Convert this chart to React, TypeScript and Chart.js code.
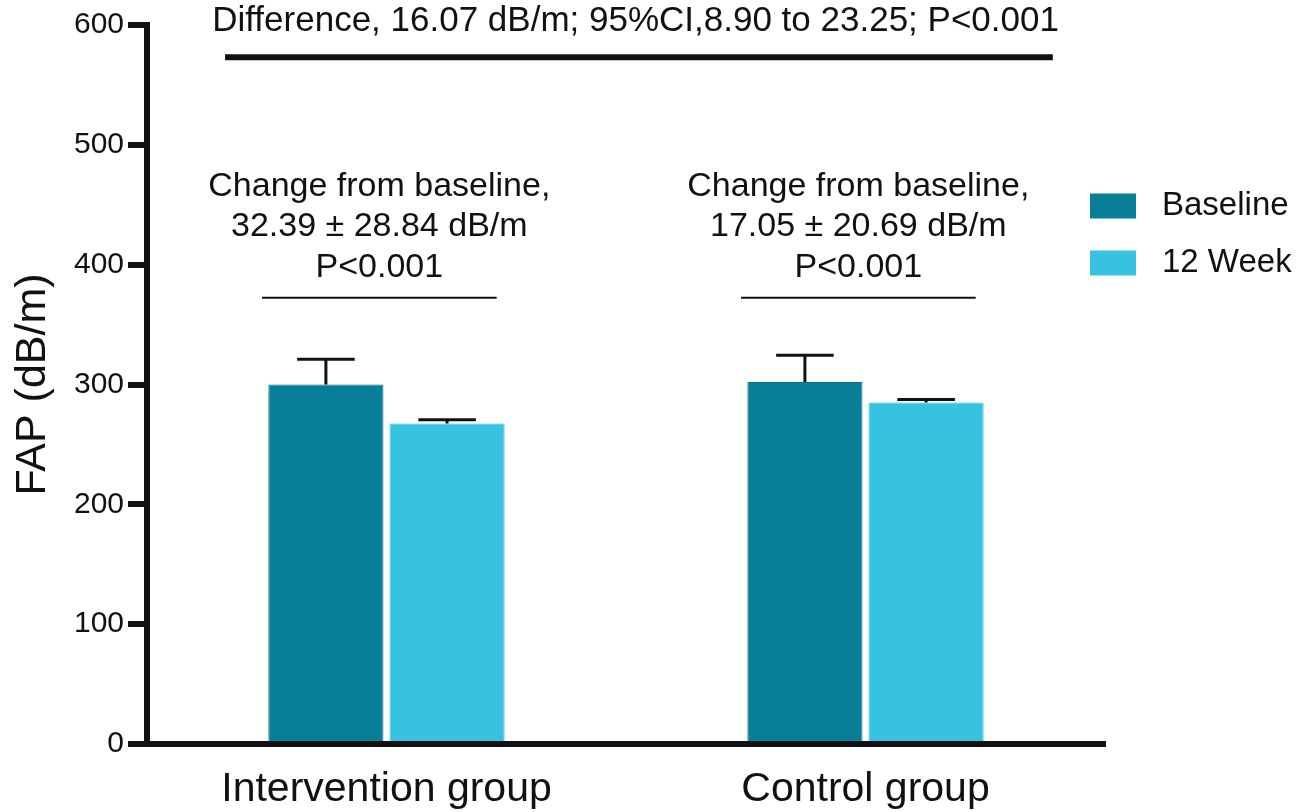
import React, { useEffect, useRef } from 'react';
import { Chart, registerables } from 'chart.js';

Chart.register(...registerables);

const categories = ['Intervention group', 'Control group'];
const seriesLabels = ['Baseline', '12 Week'];
const baselineValues = [300, 302];
const week12Values = [267.5, 285];
const baselineSD = [21, 22.5];
const week12SD = [3, 2.5];
const seriesColors = ['#087f97', '#38c2e1'];
const seriesBorders = ['#0a7089', '#3bbde0'];
const yMin = 0;
const yMax = 600;
const yStep = 100;
const yTitle = 'FAP (dB/m)';
const topNote = 'Difference, 16.07 dB/m; 95%CI,8.90 to 23.25; P<0.001';
const groupNotes = [
  ['Change from baseline,', '32.39 ± 28.84 dB/m', 'P<0.001'],
  ['Change from baseline,', '17.05 ± 20.69 dB/m', 'P<0.001'],
];
// annotation levels in data units (y) and category-index units (x)
const topNoteY = 602.7;
const topLineY = 573;
const topLineX = [-0.337, 1.391];
const topNoteX = 0.52;
const groupNoteYs = [465, 431.6, 397.3];
const groupLineY = 372.3;
const groupOffset = -0.015;
const groupHalfWidth = 0.245;

const FONT = '"Liberation Sans", Arial, Helvetica, sans-serif';
const INK = '#111111';

const annotationPlugin = {
  id: 'annotations',
  afterDatasetsDraw(chart: any) {
    const ctx = chart.ctx;
    const ys = chart.scales.y;
    ctx.save();
    const sds = [baselineSD, week12SD];
    const vals = [baselineValues, week12Values];
    chart.data.datasets.forEach((_ds: any, di: number) => {
      const meta = chart.getDatasetMeta(di);
      meta.data.forEach((bar: any, i: number) => {
        const top = ys.getPixelForValue(vals[di][i] + sds[di][i]);
        const y0 = bar.y;
        const half = bar.width * 0.25;
        ctx.strokeStyle = INK;
        ctx.lineWidth = 3;
        ctx.beginPath();
        ctx.moveTo(bar.x, y0);
        ctx.lineTo(bar.x, top);
        ctx.moveTo(bar.x - half, top);
        ctx.lineTo(bar.x + half, top);
        ctx.stroke();
      });
    });
    ctx.restore();
  },
  afterDraw(chart: any) {
    const ctx = chart.ctx;
    const xs = chart.scales.x;
    const ys = chart.scales.y;
    ctx.save();
    ctx.fillStyle = INK;
    ctx.strokeStyle = INK;
    ctx.textAlign = 'center';
    ctx.textBaseline = 'middle';
    ctx.font = `35px ${FONT}`;
    ctx.fillText(topNote, xs.getPixelForValue(topNoteX), ys.getPixelForValue(topNoteY));
    ctx.lineWidth = 6;
    ctx.beginPath();
    ctx.moveTo(xs.getPixelForValue(topLineX[0]), ys.getPixelForValue(topLineY));
    ctx.lineTo(xs.getPixelForValue(topLineX[1]), ys.getPixelForValue(topLineY));
    ctx.stroke();
    ctx.font = `34px ${FONT}`;
    groupNotes.forEach((lines, gi) => {
      const cx = xs.getPixelForValue(gi + groupOffset);
      lines.forEach((t, li) => {
        ctx.fillText(t, cx, ys.getPixelForValue(groupNoteYs[li]));
      });
      ctx.lineWidth = 2;
      ctx.beginPath();
      ctx.moveTo(xs.getPixelForValue(gi + groupOffset - groupHalfWidth), ys.getPixelForValue(groupLineY));
      ctx.lineTo(xs.getPixelForValue(gi + groupOffset + groupHalfWidth), ys.getPixelForValue(groupLineY));
      ctx.stroke();
    });
    const lx = chart.chartArea.right - 15;
    const legendYs = [206, 263];
    ctx.textAlign = 'left';
    ctx.font = `33px ${FONT}`;
    seriesLabels.forEach((lab, i) => {
      ctx.fillStyle = seriesColors[i];
      ctx.fillRect(lx, legendYs[i] - 12.5, 46, 25);
      ctx.fillStyle = INK;
      ctx.fillText(lab, lx + 72, legendYs[i]);
    });
    ctx.restore();
  },
};

export default function App() {
  const ref = useRef<HTMLCanvasElement | null>(null);
  useEffect(() => {
    document.body.style.margin = '0';
    const canvas = ref.current;
    if (!canvas) return;
    const chart = new Chart(canvas, {
      type: 'bar',
      data: {
        labels: categories,
        datasets: [
          {
            label: seriesLabels[0],
            data: baselineValues,
            backgroundColor: seriesColors[0],
            borderColor: seriesBorders[0],
            borderWidth: 1,
            categoryPercentage: 0.506,
            barPercentage: 0.95,
          },
          {
            label: seriesLabels[1],
            data: week12Values,
            backgroundColor: seriesColors[1],
            borderColor: seriesBorders[1],
            borderWidth: 1,
            categoryPercentage: 0.506,
            barPercentage: 0.95,
          },
        ],
      },
      options: {
        responsive: false,
        animation: false,
        devicePixelRatio: 1,
        layout: { padding: { top: 25, right: 208, left: 0, bottom: 0 } },
        plugins: { legend: { display: false }, tooltip: { enabled: false } },
        scales: {
          x: {
            grid: { display: false, drawTicks: false },
            border: { display: true, color: INK, width: 6 },
            ticks: { color: INK, font: { family: FONT, size: 41 }, padding: 21 },
            afterFit: (s: any) => {
              s.height = 68;
            },
          },
          y: {
            min: yMin,
            max: yMax,
            ticks: { stepSize: yStep, color: INK, font: { family: FONT, size: 30 }, padding: 4 },
            grid: { drawOnChartArea: false, drawTicks: true, tickLength: 19, lineWidth: 6, color: INK },
            border: { display: true, color: INK, width: 6 },
            title: {
              display: true,
              text: yTitle,
              color: INK,
              font: { family: FONT, size: 43 },
              padding: { top: 7, bottom: 0 },
            },
            afterFit: (s: any) => {
              s.width = 147;
            },
          },
        },
      },
      plugins: [annotationPlugin],
    });
    return () => chart.destroy();
  }, []);
  return (
    <div style={{ width: 1313, height: 812 }}>
      <canvas ref={ref} width={1313} height={812} style={{ width: 1313, height: 812, display: 'block' }} />
    </div>
  );
}
